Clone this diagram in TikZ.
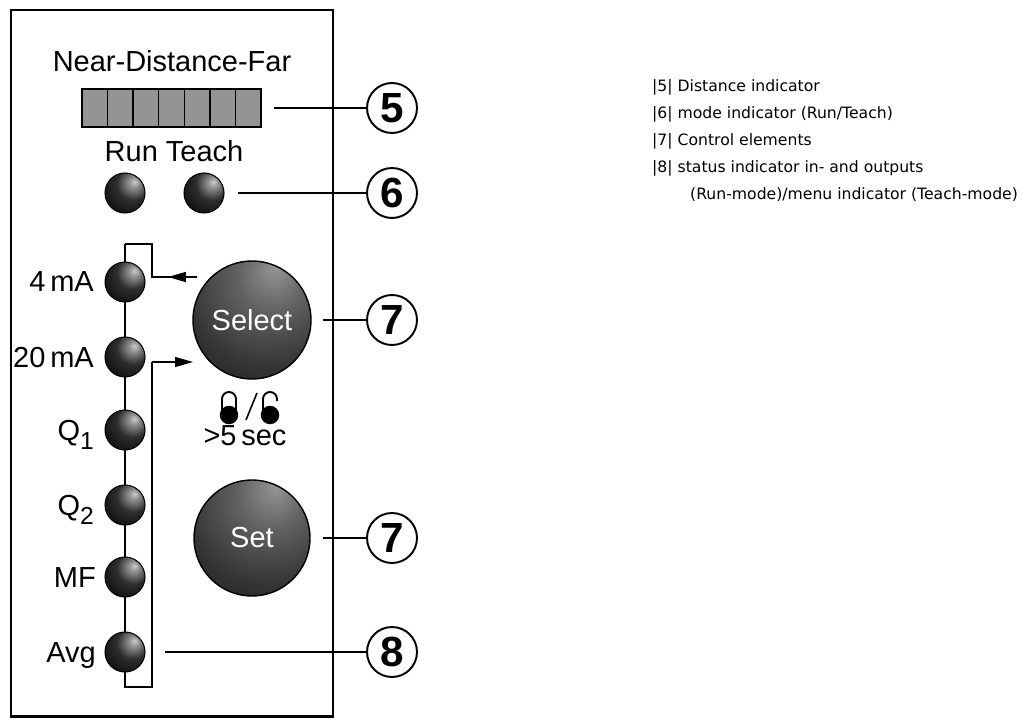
\documentclass[tikz,border=0pt]{standalone}
\usepackage{fontspec}
\setmainfont{Liberation Sans}
\newfontfamily\notefont{DejaVu Sans}
\usetikzlibrary{arrows.meta,positioning}

% shadings for the LEDs and the push buttons
\pgfdeclareradialshading{ledshade}{\pgfpoint{12bp}{14bp}}{%
  color(0bp)=(black!20); color(6bp)=(black!42); color(20bp)=(black!82);
  color(40bp)=(black!95); color(100bp)=(black)}
\pgfdeclareradialshading{btnshade}{\pgfpoint{10bp}{22bp}}{%
  color(0bp)=(black!42); color(15bp)=(black!62); color(35bp)=(black!80);
  color(55bp)=(black!90); color(100bp)=(black!95)}

\begin{document}
\begin{tikzpicture}[x=0.02cm,y=-0.02cm,
  ledball/.style={circle,draw=black,line width=0.6pt,minimum size=0.8cm,inner sep=0pt,shading=ledshade},
  pushbtn/.style={circle,draw=black,line width=0.8pt,minimum size=2.36cm,inner sep=0pt,
    shading=btnshade,text=white,font=\fontsize{16.5}{18}\selectfont},
  numcirc/.style={circle,draw,line width=1.1pt,minimum size=1cm,inner sep=0pt,
    font=\bfseries\fontsize{24}{24}\selectfont},
  lbl/.style={anchor=base east,font=\fontsize{16.5}{18}\selectfont},
  head/.style={anchor=base,font=\fontsize{16.5}{18}\selectfont},
  note/.style={anchor=base west,font=\notefont\fontsize{8.9}{10}\selectfont},
  lead/.style={line width=1.1pt},
  wire/.style={line width=0.9pt},
  tip/.style={-{Triangle[length=0.36cm,width=0.2cm]}}]

\useasboundingbox (0,0) rectangle (1023,719);

% panel
\draw[line width=1.7pt] (11,10) rectangle (333,716);

% distance bar
\node[head] (ndf) at (172,72) {Near-Distance-Far};
\node[draw,line width=0.8pt,fill=black!42,minimum width=3.58cm,minimum height=0.76cm,inner sep=0pt] (bar) at (171.5,108) {};
\foreach \i in {1,...,6}
  \draw[line width=0.8pt] (82+\i*25.57,89) -- (82+\i*25.57,127);

% mode LEDs
\node[head] (rt) at (174,162) {Run Teach};
\node[ledball] (run) at (125,193) {};
\node[ledball] (teach) at (204,193) {};

% output column
\coordinate (ctop) at (125,244);
\coordinate (rtop) at (152,244);
\coordinate (rbot) at (152,687);
\coordinate (cbot) at (125,687);
\coordinate (a1) at (152,277);
\coordinate (a1e) at (197,277);
\coordinate (a2) at (152,362);
\draw[wire] (ctop) -- (rtop) -- (a1) -- (a1e);
\draw[wire,tip] (a1e) -- (168,277);
\draw[wire,tip] (a2) -- (193,362);
\draw[wire] (a2) -- (rbot) -- (cbot) -- (ctop);

\node[ledball] (l4ma) at (125,282) {};
\node[ledball] (l20ma) at (125,357) {};
\node[ledball] (lq1) at (125,430) {};
\node[ledball] (lq2) at (125,505) {};
\node[ledball] (lmf) at (125,577) {};
\node[ledball] (lavg) at (125,652) {};

\node[lbl] at (100,292) {4\,mA};
\node[lbl] at (100,367) {20\,mA};
\node[lbl] at (100,440) {Q\raisebox{-0.6ex}{\fontsize{14}{14}\selectfont 1}};
\node[lbl] at (100,515) {Q\raisebox{-0.6ex}{\fontsize{14}{14}\selectfont 2}};
\node[lbl] at (102,587) {MF};
\node[lbl] at (102,662) {Avg};

% buttons
\node[pushbtn] (sel) at (252,320) {Select};
\node[pushbtn,minimum size=2.32cm] (set) at (252,538) {Set};

% lock symbols
\fill (229,415) circle (0.185cm);
\draw[line width=1.1pt] (222,410) -- (222,399) arc[start angle=180,end angle=0,radius=0.14cm] -- (236,410);
\fill (270,415) circle (0.185cm);
\draw[line width=1.1pt] (263,410) -- (263,399) arc[start angle=180,end angle=0,radius=0.14cm] -- (277,401);
\draw[line width=0.9pt] (246,420) -- (257,393);
\node[head] (hold) at (245,445) {>5\,sec};

% callouts
\node[numcirc] (c5) at (392,108) {5};
\node[numcirc] (c6) at (392,193) {6};
\node[numcirc] (c7a) at (392,320) {7};
\node[numcirc] (c7b) at (392,538) {7};
\node[numcirc] (c8) at (392,652) {8};
\draw[lead] (bar.east) ++(12,0) -- (c5.west);
\draw[lead] (teach.east) ++(13,0) -- (c6.west);
\draw[lead] (sel.east) ++(11,0) -- (c7a.west);
\draw[lead] (set.east) ++(12,0) -- (c7b.west);
\draw[lead] (lavg.east) ++(19,0) -- (c8.west);

% legend
\node[note] (n5) at (646,92) {|5| Distance indicator};
\node[note] (n6) at (646,119) {|6| mode indicator (Run/Teach)};
\node[note] (n7) at (646,146) {|7| Control elements};
\node[note] (n8) at (646,173) {|8| status indicator in- and outputs};
\node[note] (n8b) at (684,200) {(Run-mode)/menu indicator (Teach-mode)};

\end{tikzpicture}
\end{document}
